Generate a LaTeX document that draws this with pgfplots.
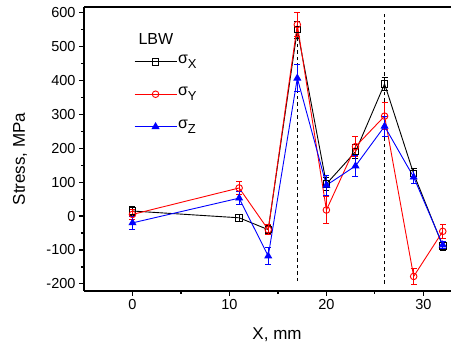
\documentclass[border=0pt]{standalone}
\usepackage{fontspec}
\setmainfont{Liberation Sans}
\usepackage{pgfplots}
\pgfplotsset{compat=1.18}
\newcommand{\sig}[1]{σ\raisebox{-5pt}{\fontsize{13}{13}\selectfont #1}}
\begin{document}
\begin{tikzpicture}
\useasboundingbox (-84pt,-54pt) rectangle (367pt,291pt);
\begin{axis}[
  at={(0,0)}, anchor=south west,
  scale only axis, width=367pt, height=284pt,
  xmin=-5, xmax=32.85, ymin=-221, ymax=617,
  axis x line*=bottom, axis y line*=left,
  axis line style={-, line width=1.4pt},
  tick align=outside,
  major tick length=5pt, minor tick length=3pt,
  every tick/.style={black, line width=1.2pt},
  xtick={0,10,20,30}, minor xtick={5,15,25},
  ytick={-200,-100,...,600}, minor ytick={-150,-50,...,550},
  /pgf/number format/assume math mode=true,
  ticklabel style={font=\fontsize{14.5}{15}\selectfont},
  xlabel={X, mm}, ylabel={Stress, MPa},
  every axis x label/.style={at={(axis description cs:0.526,-0.155)}, anchor=center, font=\fontsize{17}{17}\selectfont},
  every axis y label/.style={at={(axis description cs:-0.174,0.465)}, rotate=90, anchor=center, font=\fontsize{17}{17}\selectfont},
  clip=false,
  legend style={at={(axis description cs:0.136,0.835)}, anchor=north west, draw=none, fill=none,
     font=\fontsize{16}{16}\selectfont, row sep=17pt, inner sep=0pt,
     nodes={inner sep=1pt, text depth=5pt}},
  legend cell align=left,
  legend image code/.code={\draw[mark repeat=2,mark phase=2,#1] plot coordinates {(0pt,0pt) (21pt,0pt) (42pt,0pt)};},
  error bars/error bar style={line width=0.9pt},
  error bars/error mark options={rotate=90, mark size=3pt, line width=0.9pt},
]
\addplot[black, dash pattern=on 3.5pt off 3pt, line width=1.4pt, forget plot] coordinates {(17,-192) (17,600)};
\addplot[black, dash pattern=on 3.5pt off 3pt, line width=1.4pt, forget plot] coordinates {(26,-200) (26,600)};
\addplot[black, line width=0.9pt, mark=square, mark size=3.2pt, mark options={solid, fill=white},
  error bars/.cd, y dir=both, y explicit] coordinates {
 (0,15) +- (0,12) (11,-5) +- (0,10) (14,-40) +- (0,12) (17,550) +- (0,25) (20,95) +- (0,20)
 (23,190) +- (0,20) (26,390) +- (0,20) (29,125) +- (0,15) (32,-88) +- (0,12)};
\addlegendentry{\sig{X}}
\addplot[red, line width=0.9pt, mark=o, mark size=3.3pt, mark options={solid, fill=white},
  error bars/.cd, y dir=both, y explicit] coordinates {
 (0,5) +- (0,15) (11,83) +- (0,20) (14,-40) +- (0,15) (17,565) +- (0,35) (20,18) +- (0,40)
 (23,205) +- (0,30) (26,295) +- (0,40) (29,-178) +- (0,25) (32,-45) +- (0,20)};
\addlegendentry{\sig{Y}}
\addplot[blue, line width=0.9pt, mark=triangle*, mark size=3.8pt, mark options={solid, fill=blue},
  error bars/.cd, y dir=both, y explicit] coordinates {
 (0,-20) +- (0,20) (11,53) +- (0,20) (14,-118) +- (0,25) (17,407) +- (0,40) (20,91) +- (0,30)
 (23,148) +- (0,30) (26,265) +- (0,30) (29,115) +- (0,20) (32,-85) +- (0,10)};
\addlegendentry{\sig{Z}}
\draw[line width=1.4pt] (rel axis cs:0,1) -- (rel axis cs:1,1);
\node[font=\fontsize{16}{16}\selectfont] at (axis description cs:0.196,0.887) {LBW};
\end{axis}
\end{tikzpicture}
\end{document}
